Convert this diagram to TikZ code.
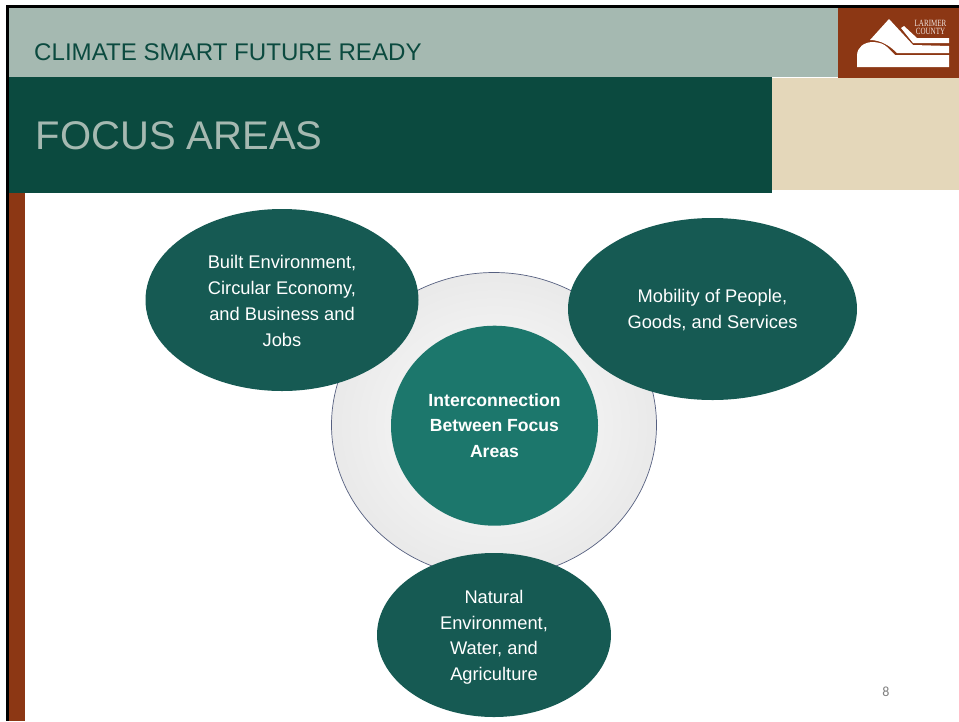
\documentclass[tikz,border=0pt]{standalone}
\usepackage{fontspec}
\setmainfont{Liberation Sans}
\newfontfamily\numfont{Carlito}
\newfontfamily\logofont[FakeStretch=0.74]{Liberation Serif}
\definecolor{sage}{HTML}{A5B9B1}
\definecolor{deepgreen}{HTML}{0B4A3F}
\definecolor{rust}{HTML}{8C3714}
\definecolor{sand}{HTML}{E4D7BA}
\definecolor{bubble}{HTML}{165A53}
\definecolor{hub}{HTML}{1C776C}
\definecolor{ringline}{HTML}{566080}
\usetikzlibrary{shapes.geometric}
\tikzset{
  x=1pt,y=-1pt,
  band/.style={fill=#1,draw=none},
  bubbletext/.style={text=white,align=center,inner sep=0pt,font=\fontsize{18.3}{25.8}\selectfont},
  topic/.style={ellipse,fill=bubble,draw=none,inner sep=0pt},
}
\begin{document}
\begin{tikzpicture}
\useasboundingbox (0,0) rectangle (959,721);
\fill[white] (0,0) rectangle (959,721);
% frame
\fill[black] (6,5) rectangle (959,8);
\fill[black] (6,5) rectangle (8.5,721);
% bands
\path[band=sage] (8.5,8) rectangle (838,77);
\path[band=rust] (838,8) rectangle (959,78);
\path[band=sand] (772,78) rectangle (959,190);
\path[band=rust] (8.5,190) rectangle (25,721);
\path[band=deepgreen] (8.5,77) rectangle (772,193);
\node[anchor=west,text=deepgreen,font=\fontsize{24.1}{28}\selectfont,inner sep=0pt] (kicker) at (34,52) {CLIMATE SMART FUTURE READY};
\node[anchor=west,text=sage,font=\fontsize{40}{46}\selectfont,inner sep=0pt] (title) at (35.5,136) {FOCUS AREAS};
% logo
\fill[white] (857,67) -- (857,55) .. controls (857.5,47) and (864,42.5) .. (872,42)
  .. controls (879,42) and (884,44) .. (887,47) -- (895,55) -- (949,55) -- (949,67) -- cycle;
\fill[white] (870,40) -- (889,19) -- (913,45) -- (949,46) -- (949,53) -- (897,53)
  .. controls (890,46) and (881,40) .. (870,40) -- cycle;
\fill[white] (901,28) -- (904,26) -- (917,38) -- (949,38) -- (949,43) -- (913,43) -- cycle;
\node[text=white!88!rust,align=center,font=\logofont\fontsize{9.5}{8}\selectfont,inner sep=0pt] (logo) at (930.5,27.5) {LARIMER\\COUNTY};
% ring
\shade[inner color=gray!2,outer color=gray!17,draw=none] (494,425) ellipse[x radius=162.5,y radius=152.5];
\draw[ringline,line width=.7pt] (494,425) ellipse[x radius=162.5,y radius=152.5];
% nodes
\node[ellipse,fill=hub,minimum width=207pt,minimum height=200pt,inner sep=0pt] (center) at (494.5,425.7) {};
\node[bubbletext,font=\bfseries\fontsize{17.6}{25.8}\selectfont] (centertext) at (center.center) {Interconnection\\Between Focus\\Areas};
\node[topic,minimum width=273pt,minimum height=182pt] (built) at (282,300) {};
\node[bubbletext] (builttext) at ([yshift=-1pt]built.center) {Built Environment,\\Circular Economy,\\and Business and\\Jobs};
\node[topic,minimum width=289pt,minimum height=182pt] (mobility) at (712.5,309) {};
\node[bubbletext] (mobilitytext) at ([yshift=-1pt]mobility.center) {Mobility of People,\\Goods, and Services};
\node[topic,minimum width=234pt,minimum height=164pt] (natural) at (494,635) {};
\node[bubbletext] (naturaltext) at ([yshift=-2.3pt]natural.center) {Natural\\Environment,\\Water, and\\Agriculture};
\node[text=gray,font=\numfont\fontsize{14}{16}\selectfont,inner sep=0pt] (page) at (886,692) {8};
\end{tikzpicture}
\end{document}
